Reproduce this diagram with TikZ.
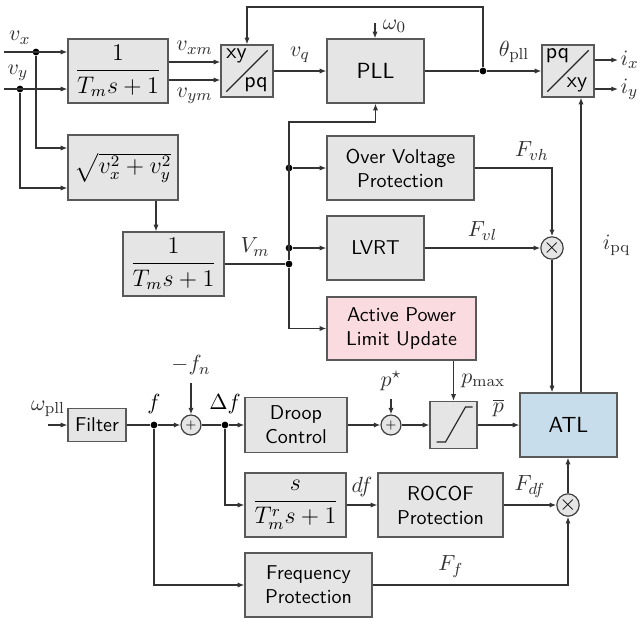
\documentclass[tikz,border=0pt,11pt]{standalone}
\usepackage{amsmath}
\usepackage{xcolor}
\usepackage{tikz}
\usetikzlibrary{positioning,arrows.meta,calc}
\definecolor{apfill}{HTML}{FADCE0}
\definecolor{atlfill}{HTML}{C8DDEB}

\begin{document}
\begin{tikzpicture}[x=0.5pt,y=0.5pt,
  blk/.style={draw=black!65,fill=gray!20,line width=0.7pt,inner sep=2pt,align=center,font=\sffamily\small},
  big/.style={font=\sffamily},
  tf/.style={font=\large},
  sumc/.style={circle,draw=black!75,fill=gray!20,line width=0.6pt,inner sep=0pt,minimum size=10pt},
  dot/.style={circle,fill=black,inner sep=0pt,minimum size=3.4pt},
  arr/.style={-{Latex[length=3.3pt,width=2.6pt]},black!80,line width=0.6pt},
  ln/.style={black!80,line width=0.6pt}]
\useasboundingbox (0,0) rectangle (642,-622);
% blocks
\node[blk,tf,minimum width=50pt,minimum height=32pt] (lpf1) at (118,-71) {$\dfrac{1}{T_m s+1}$};
\node[blk,minimum size=26pt] (xy2pq) at (247,-71) {};
\node[blk,big,minimum width=48.5pt,minimum height=32pt] (pll) at (375.5,-71) {PLL};
\node[blk,minimum size=26pt] (pq2xy) at (568,-71) {};
\node[blk,tf,minimum width=55pt,minimum height=32.5pt] (mag) at (123,-167.5) {$\sqrt{v_x^2+v_y^2}$};
\node[blk,tf,minimum width=50.5pt,minimum height=32pt] (lpf2) at (173.5,-264) {$\dfrac{1}{T_m s+1}$};
\node[blk,minimum width=73.5pt,minimum height=32pt] (ovp) at (400.5,-168) {Over Voltage\\Protection};
\node[blk,minimum width=48.5pt,minimum height=32pt] (lvrt) at (375.5,-248) {LVRT};
\node[blk,fill=apfill,minimum width=74.5pt,minimum height=31.5pt] (aplu) at (401.5,-328.5) {Active Power\\Limit Update};
\node[blk,big,fill=atlfill,minimum width=48.5pt,minimum height=32pt] (atl) at (568.5,-425) {ATL};
\node[blk,minimum size=23.5pt] (sat) at (453.5,-425) {};
\node[blk,minimum width=51pt,minimum height=27.5pt] (droop) at (296,-425) {Droop\\Control};
\node[blk,minimum width=29pt,minimum height=16.5pt] (filt) at (97,-425) {Filter};
\node[blk,tf,minimum width=50.5pt,minimum height=32pt] (deriv) at (295.5,-505) {$\dfrac{s}{T_m^r s+1}$};
\node[blk,minimum width=62.5pt,minimum height=32pt] (rocof) at (440.5,-505) {ROCOF\\Protection};
\node[blk,minimum width=63.5pt,minimum height=32pt] (freq) at (308.5,-585) {Frequency\\Protection};
% sums and products
\node[sumc] (sum1) at (191,-425) {\tiny$+$};
\node[sumc] (sum2) at (391,-425) {\tiny$+$};
\node[sumc,minimum size=10.5pt] (mul1) at (552,-248) {$\times$};
\node[sumc,minimum size=10.5pt] (mul2) at (568,-505) {$\times$};
% junctions
\node[dot] (jx) at (36,-52) {};
\node[dot] (jy) at (20,-89) {};
\node[dot] (jt) at (483,-71) {};
\node[dot] (j1) at (289,-168) {};
\node[dot] (j2) at (289,-248) {};
\node[dot] (jv) at (289,-264) {};
\node[dot,label={above:$f$}] (jf) at (154,-425) {};
\node[dot,label={above:$\Delta f$}] (jd) at (225,-425) {};
\coordinate (vxin) at (4,-52);
\coordinate (vyin) at (4,-89);
\coordinate (fbtop) at (483,-7);
\coordinate (w0in) at (375,-23);
\coordinate (bustop) at (289,-122);
\coordinate (ixout) at (618,-60);
\coordinate (iyout) at (618,-89);
\coordinate (wpin) at (48,-425);
\coordinate (fnin) at (191,-383);
\coordinate (pin) at (391,-399);
% converter and limiter symbols
\foreach \c/\a/\b in {xy2pq/xy/pq,pq2xy/pq/xy} {
  \draw[black!85,line width=0.6pt] ($(\c.south west)+(3pt,3pt)$) -- ($(\c.north east)+(-3pt,-3pt)$);
  \node[font=\sffamily] (\c-a) at ($(\c)+(-5.25pt,7.5pt)$) {\a};
  \node[font=\sffamily] (\c-b) at ($(\c)+(4.5pt,-7pt)$) {\b};
}
\draw[black!85,line width=0.6pt] ($(sat)+(-8.5pt,-8.5pt)$) -- ++(4.5pt,0) -- ($(sat)+(6pt,9pt)$) -- ++(3.5pt,0);
% voltage path
\draw[arr] (vxin) -- node[pos=0.25,above] (lvx) {$v_x$} (vxin -| lpf1.west);
\draw[arr] (vyin) -- node[pos=0.22,above] (lvy) {$v_y$} (vyin -| lpf1.west);
\draw[arr] (jx) |- ([yshift=9.75pt]mag.west);
\draw[arr] (jy) |- ([yshift=-10.25pt]mag.west);
\draw[arr] ([yshift=4.5pt]lpf1.east) -- node[above] (lvxm) {$v_{xm}$} ([yshift=4.5pt]lpf1.east -| xy2pq.west);
\draw[arr] ([yshift=-4.5pt]lpf1.east) -- node[below] (lvym) {$v_{ym}$} ([yshift=-4.5pt]lpf1.east -| xy2pq.west);
\draw[arr] (xy2pq) -- node[above] (lvq) {$v_q$} (pll);
\draw[arr] (w0in) -- node[pos=0.2,right] (lw0) {$\omega_0$} (w0in |- pll.north);
\draw[ln] (pll) -- (jt);
\draw[arr] (jt) -- node[above] (lth) {$\theta_{\mathrm{pll}}$} (pq2xy);
\draw[arr] (jt) -- (fbtop) -| (xy2pq.north);
\draw[arr] (pq2xy.east |- ixout) -- (ixout) node[right,inner sep=1pt] (lix) {$i_x$};
\draw[arr] (pq2xy.east |- iyout) -- (iyout) node[right,inner sep=1pt] (liy) {$i_y$};
\draw[arr] ([xshift=16.5pt]mag.south) -- ([xshift=16.5pt]mag.south |- lpf2.north);
\draw[ln] (lpf2) -- node[above] (lvm) {$V_m$} (jv);
\draw[arr] (jv) -- (bustop) -| (pll.south);
\draw[arr] (j1) -- (ovp.west);
\draw[arr] (j2) -- (lvrt.west);
\draw[arr] (jv) |- (aplu.west);
% protections
\draw[arr] (ovp.east) -| node[pos=0.37,above] (lfvh) {$F_{vh}$} (mul1.north);
\draw[arr] (lvrt) -- node[above] (lfvl) {$F_{vl}$} (mul1);
\draw[arr] (mul1) -- (mul1 |- atl.north);
\draw[arr] ([xshift=6.25pt]atl.north) -- node[right=7pt] (lipq) {$i_{\mathrm{pq}}$} ([xshift=6.25pt]atl.north |- pq2xy.south);
\draw[arr] (aplu.south -| sat) -- node[right] (lpmax) {$p_{\max}$} (sat);
% frequency path
\draw[arr] (wpin) node[above] (lwpll) {$\omega_{\mathrm{pll}}$} -- (filt);
\draw[ln] (filt) -- (jf);
\draw[arr] (jf) -- (sum1);
\draw[arr] (fnin) node[above] (lfn) {$-f_n$} -- (sum1);
\draw[ln] (sum1) -- (jd);
\draw[arr] (jd) -- (droop);
\draw[arr] (jd) |- (deriv.west);
\draw[arr] (jf) |- (freq.west);
\draw[arr] (droop) -- (sum2);
\draw[arr] (pin) node[above] (lpst) {$p^\star$} -- (sum2);
\draw[arr] (sum2) -- (sat);
\draw[arr] (sat) -- node[above] (lpbar) {$\overline{p}$} (atl);
\draw[arr] (deriv) -- node[above] (ldf) {$df$} (rocof);
\draw[arr] (rocof) -- node[above] (lfdf) {$F_{df}$} (mul2);
\draw[arr] (freq) -| node[pos=0.2,above] (lff) {$F_f$} (mul2);
\draw[arr] (mul2) -- (mul2 |- atl.south);
\end{tikzpicture}
\end{document}
